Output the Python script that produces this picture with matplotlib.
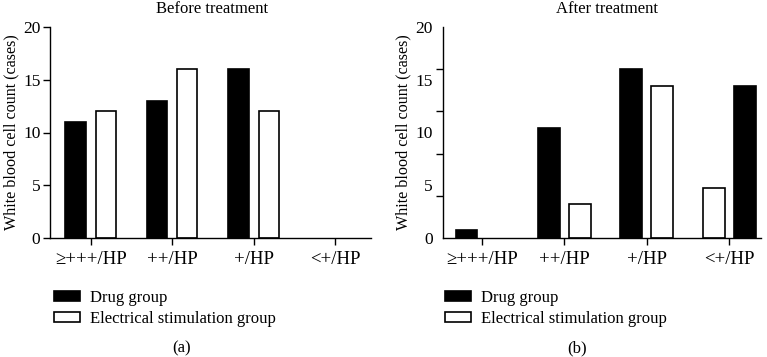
import matplotlib
matplotlib.use("Agg")
import matplotlib.pyplot as plt
import numpy as np
from matplotlib.patches import Patch
from matplotlib.ticker import FixedLocator, NullFormatter

plt.rcParams["font.family"] = ["Liberation Serif", "DejaVu Serif"]
plt.rcParams["font.size"] = 12

categories = ["≥+++/HP", "++/HP", "+/HP", "<+/HP"]
before_drug = [11, 13, 16, 0]
before_es = [12, 16, 12, 0]
after_drug = [0.8, 10.4, 16, 14.4]
after_es = [0, 3.2, 14.4, 4.8]
series_labels = ["Drug group", "Electrical stimulation group"]
titles = ["Before treatment", "After treatment"]
panel_tags = ["(a)", "(b)"]

W, H = 767, 357
fig = plt.figure(figsize=(W / 100, H / 100), dpi=100)

ax_l = fig.add_axes([49.5 / W, 1 - 238.3 / H, (371 - 49.5) / W, (238.3 - 26.7) / H])
ax_r = fig.add_axes([442.7 / W, 1 - 238.3 / H, (761 - 442.7) / W, (238.3 - 26.7) / H])

x = np.arange(len(categories))


def draw_bars(ax, pos, vals, width, face):
    # zero counts are left out (no flat outline on the axis)
    vals = np.asarray(vals, dtype=float)
    keep = vals > 0
    ax.bar(pos[keep], vals[keep], width, color=face, edgecolor="black", linewidth=1.2)


def style_axis(ax):
    for s in ("top", "right"):
        ax.spines[s].set_visible(False)
    for s in ("left", "bottom"):
        ax.spines[s].set_linewidth(1.0)
    ax.set_ylim(0, 20)
    ax.set_xticks(x)
    ax.set_xticklabels(categories, fontsize=13.5)
    ax.tick_params(axis="both", direction="out", length=5, width=1.0)
    ax.tick_params(axis="y", labelsize=12.5, pad=1.5)
    ax.tick_params(axis="x", pad=4)
    ax.set_ylabel("White blood cell count (cases)", fontsize=11.6, labelpad=3)


# before treatment
w, off = 0.25, 0.185
draw_bars(ax_l, x - off, before_drug, w, "black")
draw_bars(ax_l, x + off, before_es, w, "white")
style_axis(ax_l)
ax_l.set_xlim(-0.506, 3.44)
ax_l.set_yticks([0, 5, 10, 15, 20])

# after treatment: last group has the bars swapped
w2, off2 = 0.263, 0.188
sign = np.array([1, 1, 1, -1])
draw_bars(ax_r, x - off2 * sign, after_drug, w2, "black")
draw_bars(ax_r, x + off2 * sign, after_es, w2, "white")
style_axis(ax_r)
ax_r.set_xlim(-0.477, 3.386)
# labels at 0,5,..,20 but tick marks every 4, as in the original
ax_r.set_yticks([0, 5, 10, 15, 20])
ax_r.tick_params(axis="y", which="major", length=0, pad=7)
ax_r.yaxis.set_minor_locator(FixedLocator([0, 4, 8, 12, 16, 20]))
ax_r.yaxis.set_minor_formatter(NullFormatter())
ax_r.tick_params(axis="y", which="minor", length=5, width=1.0, direction="out")

fig.text(212 / W, 1 - 1 / H, titles[0], ha="center", va="top")
fig.text(607 / W, 1 - 1 / H, titles[1], ha="center", va="top")

handles = [Patch(facecolor="black", edgecolor="black", linewidth=1.2),
           Patch(facecolor="white", edgecolor="black", linewidth=1.2)]
for x0, tag, tx in [(54, panel_tags[0], 182), (445, panel_tags[1], 577)]:
    fig.legend(handles, series_labels, loc="upper left",
               bbox_to_anchor=(x0 / W, 1 - 290 / H), frameon=False,
               borderpad=0, borderaxespad=0, handlelength=1.55,
               handleheight=0.5, handletextpad=0.6, labelspacing=0.3)
    fig.text(tx / W, 1 - 348 / H, tag, ha="center", va="center")

fig.savefig("out.png", dpi=100)
